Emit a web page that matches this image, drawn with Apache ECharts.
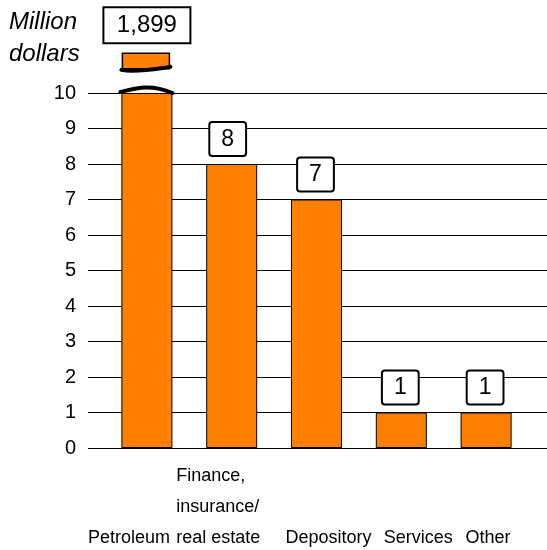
<!DOCTYPE html>
<html>
<head>
<meta charset="utf-8">
<script src="https://cdn.jsdelivr.net/npm/echarts@6/dist/echarts.min.js"></script>
<style>
  html, body { margin: 0; padding: 0; background: #fff; }
  #main { width: 547px; height: 550px; }
</style>
</head>
<body>
<div id="main"></div>
<script>
// chart data
const categories = ['Petroleum', 'Finance,\ninsurance/\nreal estate', 'Depository', 'Services', 'Other'];
const values = [1899, 8, 7, 1, 1];
const yTicks = [0, 10, 1]; // min, max, step
const breakAt = 10;

// horizontal nudge of each category label / value box (px)
const labelShift = [-18, -9, 12, 17, 2];
const boxShift = [0, -4, -1, -1, -1];

const font = "'Liberation Sans', Arial, sans-serif";
const barColor = '#FF8000';
const barWidth = 51;

function fmt(v) {
    return v.toLocaleString('en-US');
}

const barData = values.map(function (v, i) {
    if (v > breakAt) {
        return { value: breakAt, label: { show: false } };
    }
    return { value: v, label: { offset: [boxShift[i], 0] } };
});

const catData = categories.map(function (c, i) {
    const s = labelShift[i];
    const lines = c.split('\n');
    let text = c;
    if (lines.length > 1) {
        text = lines.map(function (l) { return '{l|' + l + '}'; }).join('\n');
    }
    return {
        value: '\n'.repeat(3 - lines.length) + text,
        textStyle: { padding: s < 0 ? [0, -2 * s, 0, 0] : [0, 0, 0, 2 * s] }
    };
});

function topWave(x0, x1, y) {
    const w = x1 - x0;
    return 'M' + x0 + ',' + (y + 1) +
        ' C' + (x0 + w * 0.25) + ',' + (y - 2) + ' ' + (x0 + w * 0.55) + ',' + (y - 8) + ' ' + x1 + ',' + (y + 2);
}

function lowWave(x0, x1, y) {
    const w = x1 - x0;
    return 'M' + x0 + ',' + y +
        ' C' + (x0 + w * 0.3) + ',' + (y + 3) + ' ' + (x0 + w * 0.7) + ',' + (y - 1) + ' ' + x1 + ',' + (y - 3);
}

function renderBreak(params, api) {
    const v = api.value(1);
    if (v <= breakAt) return null;
    const base = api.coord([api.value(0), breakAt]);
    const cx = base[0];
    const x0 = cx - barWidth / 2;
    const yStubBottom = api.coord([api.value(0), 10.68])[1];
    const yStubTop = api.coord([api.value(0), 11.12])[1];
    const boxH = 36, boxW = 87;
    const boxBottom = yStubTop - 10;
    return {
        type: 'group',
        children: [
            {
                type: 'rect',
                shape: { x: x0 + 1, y: yStubTop, width: barWidth - 4, height: yStubBottom - yStubTop },
                style: { fill: barColor, stroke: '#000', lineWidth: 1.5 }
            },
            {
                type: 'path',
                shape: { pathData: lowWave(x0, x0 + barWidth - 2, yStubBottom + 1) },
                style: { fill: null, stroke: '#000', lineWidth: 4, lineCap: 'round' }
            },
            {
                type: 'path',
                shape: { pathData: topWave(x0 - 1, x0 + barWidth, base[1] - 2) },
                style: { fill: null, stroke: '#000', lineWidth: 4, lineCap: 'round' }
            },
            {
                type: 'rect',
                shape: { x: cx - boxW / 2, y: boxBottom - boxH, width: boxW, height: boxH },
                style: { fill: '#fff', stroke: '#000', lineWidth: 2 }
            },
            {
                type: 'text',
                style: {
                    x: cx, y: boxBottom - boxH / 2, text: fmt(v),
                    align: 'center', verticalAlign: 'middle',
                    fontSize: 24, fontFamily: font, fill: '#000'
                }
            }
        ]
    };
}

const chart = echarts.init(document.getElementById('main'));
chart.setOption({
    animation: false,
    backgroundColor: '#fff',
    title: {
        text: 'Million\ndollars',
        left: 4,
        top: 1,
        textStyle: {
            fontFamily: font, fontStyle: 'italic', fontWeight: 'normal',
            fontSize: 24, lineHeight: 32, color: '#000'
        }
    },
    grid: [
        { left: 104.5, right: 18.5, top: 93, bottom: 102, outerBoundsMode: 'none', containLabel: false },
        { left: 88, right: 0, top: 93, bottom: 102, outerBoundsMode: 'none', containLabel: false }
    ],
    xAxis: [
        {
            type: 'category',
            gridIndex: 0,
            data: catData,
            axisLine: { show: false },
            axisTick: { show: false },
            axisLabel: {
                interval: 0,
                margin: 13,
                fontFamily: font,
                fontSize: 18,
                lineHeight: 31,
                color: '#000',
                rich: {
                    l: { width: 93, align: 'left', fontFamily: font, fontSize: 18, lineHeight: 31, color: '#000' }
                }
            }
        },
        { type: 'category', gridIndex: 1, show: false, data: categories }
    ],
    yAxis: [
        { type: 'value', gridIndex: 0, min: yTicks[0], max: yTicks[1], interval: yTicks[2], show: false },
        {
            type: 'value', gridIndex: 1,
            min: yTicks[0], max: yTicks[1], interval: yTicks[2],
            axisLine: { show: false },
            axisTick: { show: false },
            splitLine: { show: true, lineStyle: { color: '#000', width: 1 } },
            axisLabel: { margin: 12, fontFamily: font, fontSize: 20, color: '#000' }
        }
    ],
    series: [
        {
            type: 'bar',
            xAxisIndex: 0,
            yAxisIndex: 0,
            data: barData,
            barWidth: barWidth,
            z: 3,
            itemStyle: { color: barColor, borderColor: '#000', borderWidth: 1 },
            label: {
                show: true,
                position: 'top',
                distance: 9,
                formatter: function (p) { return fmt(values[p.dataIndex]); },
                fontFamily: font,
                fontSize: 23,
                color: '#000',
                backgroundColor: '#fff',
                borderColor: '#000',
                borderWidth: 2,
                borderRadius: 2,
                padding: [5, 11, 4, 11]
            }
        },
        {
            type: 'custom',
            xAxisIndex: 0,
            yAxisIndex: 0,
            clip: false,
            z: 5,
            data: values.map(function (v, i) { return [i, v]; }),
            renderItem: renderBreak
        }
    ]
});
</script>
</body>
</html>
